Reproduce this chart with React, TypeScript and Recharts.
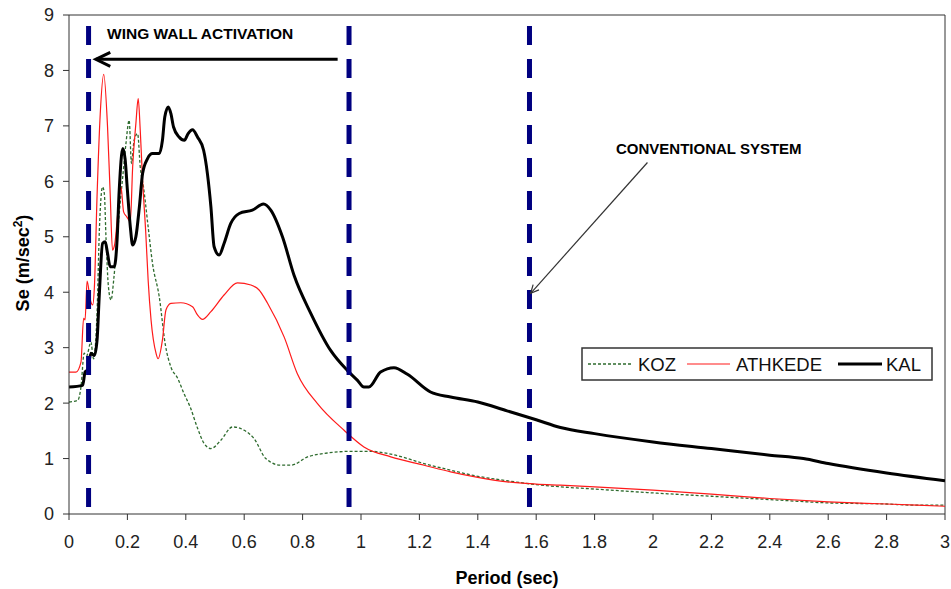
import { LineChart, Line, XAxis, YAxis, ReferenceLine } from "recharts";

// period (sec) / spectral acceleration (m/sec2)
const KOZ_T = [0.0, 0.03, 0.041, 0.052, 0.06, 0.075, 0.084, 0.096, 0.104, 0.115, 0.121, 0.127, 0.135, 0.144, 0.153, 0.161, 0.172, 0.184, 0.195, 0.206, 0.214, 0.223, 0.235, 0.244, 0.255, 0.271, 0.286, 0.309, 0.33, 0.349, 0.372, 0.394, 0.415, 0.44, 0.463, 0.486, 0.52, 0.56, 0.6, 0.634, 0.674, 0.725, 0.76, 0.817, 0.885, 0.965, 1.033, 1.102, 1.216, 1.307, 1.4, 1.5, 1.6, 1.683, 1.8, 2.0, 2.2, 2.4, 2.6, 2.8, 2.89, 3.0];
const KOZ_SE = [2.02, 2.05, 2.29, 2.9, 2.85, 3.1, 2.8, 3.62, 5.12, 5.9, 5.78, 4.94, 4.1, 3.86, 4.22, 4.7, 5.42, 6.08, 6.68, 7.1, 6.32, 6.74, 6.86, 6.26, 5.9, 5.18, 4.52, 3.92, 3.05, 2.65, 2.45, 2.17, 1.93, 1.55, 1.27, 1.18, 1.33, 1.57, 1.51, 1.36, 1.0, 0.88, 0.88, 1.03, 1.1, 1.13, 1.13, 1.08, 0.91, 0.79, 0.68, 0.6, 0.53, 0.49, 0.45, 0.38, 0.32, 0.26, 0.2, 0.18, 0.16, 0.16];

const ATH_T = [0.0, 0.024, 0.041, 0.05, 0.055, 0.062, 0.073, 0.081, 0.087, 0.096, 0.107, 0.119, 0.132, 0.141, 0.149, 0.157, 0.169, 0.178, 0.187, 0.198, 0.21, 0.218, 0.229, 0.237, 0.244, 0.252, 0.263, 0.271, 0.281, 0.298, 0.305, 0.32, 0.332, 0.349, 0.383, 0.423, 0.44, 0.457, 0.486, 0.531, 0.577, 0.623, 0.651, 0.68, 0.737, 0.782, 0.851, 0.942, 1.01, 1.102, 1.216, 1.307, 1.4, 1.5, 1.6, 1.683, 1.8, 2.0, 2.2, 2.4, 2.6, 2.8, 3.0];
const ATH_SE = [2.56, 2.56, 2.74, 3.53, 3.5, 4.2, 3.86, 3.77, 4.1, 5.72, 7.22, 7.93, 6.98, 5.78, 4.76, 4.88, 5.54, 5.9, 5.45, 5.36, 5.27, 6.26, 7.04, 7.49, 6.92, 6.02, 5.06, 4.22, 3.5, 2.9, 2.8, 3.14, 3.68, 3.8, 3.81, 3.74, 3.59, 3.51, 3.65, 3.95, 4.17, 4.13, 4.04, 3.8, 3.19, 2.53, 1.99, 1.51, 1.21, 1.03, 0.88, 0.76, 0.66, 0.58, 0.54, 0.52, 0.49, 0.43, 0.36, 0.28, 0.22, 0.18, 0.14];

const KAL_T = [0.0, 0.047, 0.055, 0.064, 0.075, 0.087, 0.096, 0.104, 0.115, 0.124, 0.132, 0.141, 0.155, 0.164, 0.172, 0.184, 0.192, 0.2, 0.21, 0.218, 0.229, 0.241, 0.252, 0.269, 0.286, 0.309, 0.32, 0.328, 0.34, 0.349, 0.358, 0.377, 0.395, 0.408, 0.423, 0.44, 0.461, 0.474, 0.486, 0.497, 0.514, 0.531, 0.554, 0.583, 0.628, 0.666, 0.691, 0.731, 0.771, 0.828, 0.896, 0.953, 0.988, 1.01, 1.027, 1.067, 1.113, 1.159, 1.238, 1.307, 1.4, 1.5, 1.6, 1.683, 1.8, 2.0, 2.2, 2.4, 2.515, 2.6, 2.8, 3.0];
const KAL_SE = [2.29, 2.32, 2.56, 2.6, 2.9, 2.86, 3.13, 3.98, 4.88, 4.91, 4.7, 4.46, 4.46, 4.88, 5.84, 6.59, 6.41, 5.84, 5.18, 4.85, 5.0, 5.54, 6.14, 6.41, 6.5, 6.5, 6.74, 7.16, 7.34, 7.22, 6.98, 6.8, 6.74, 6.86, 6.93, 6.8, 6.56, 6.14, 5.54, 4.82, 4.67, 4.88, 5.24, 5.42, 5.48, 5.59, 5.48, 5.0, 4.3, 3.62, 2.95, 2.59, 2.41, 2.29, 2.29, 2.56, 2.64, 2.52, 2.2, 2.11, 2.02, 1.86, 1.7, 1.56, 1.45, 1.3, 1.18, 1.06, 1.0, 0.91, 0.74, 0.6];

const X_TICKS = [0, 0.2, 0.4, 0.6, 0.8, 1, 1.2, 1.4, 1.6, 1.8, 2, 2.2, 2.4, 2.6, 2.8, 3];
const Y_TICKS = [0, 1, 2, 3, 4, 5, 6, 7, 8, 9];

// dashed period limits
const LIMIT_PERIODS = [0.067, 0.959, 1.577];

const toRows = (t: number[], se: number[]) => t.map((v, i) => ({ t: v, se: se[i] }));
const kozData = toRows(KOZ_T, KOZ_SE);
const athData = toRows(ATH_T, ATH_SE);
const kalData = toRows(KAL_T, KAL_SE);

const FONT = "Arial, 'Liberation Sans', sans-serif";
const TICK_STYLE = { fontSize: 18, fill: "#222", fontFamily: FONT };

function makeArrow(len: number, width: number, color: string) {
  return (props: any) => {
    const { x1, y1, x2, y2 } = props;
    const ang = Math.atan2(y2 - y1, x2 - x1);
    const spread = 0.45;
    const a = ang + Math.PI - spread;
    const b = ang + Math.PI + spread;
    const pts = `${x2 + len * Math.cos(a)},${y2 + len * Math.sin(a)} ${x2},${y2} ${x2 + len * Math.cos(b)},${y2 + len * Math.sin(b)}`;
    return (
      <g>
        <line x1={x1} y1={y1} x2={x2} y2={y2} stroke={color} strokeWidth={width} />
        <polyline points={pts} fill="none" stroke={color} strokeWidth={width} strokeLinejoin="miter" />
      </g>
    );
  };
}

export default function App() {
  return (
    <div style={{ position: "absolute", left: 0, top: 0, width: 951, height: 589, background: "#fff" }}>
      <LineChart width={951} height={589} margin={{ top: 15, right: 6, bottom: 15, left: 0 }}>
        <XAxis
          type="number"
          dataKey="t"
          domain={[0, 3]}
          ticks={X_TICKS}
          tickSize={6}
          tickMargin={15}
          height={60}
          stroke="#333"
          tick={TICK_STYLE}
          allowDataOverflow
        />
        <YAxis
          type="number"
          domain={[0, 9]}
          ticks={Y_TICKS}
          tickSize={6}
          tickMargin={9}
          width={69}
          stroke="#333"
          tick={TICK_STYLE}
          allowDataOverflow
        />
        <ReferenceLine y={9} stroke="#333" />
        <ReferenceLine x={3} stroke="#333" />
        <Line data={kozData} dataKey="se" type="monotone" stroke="#2e6b2e" strokeWidth={1.3} strokeDasharray="3 2" dot={false} activeDot={false} isAnimationActive={false} />
        <Line data={athData} dataKey="se" type="monotone" stroke="#ff1a1a" strokeWidth={1.2} dot={false} activeDot={false} isAnimationActive={false} />
        <Line data={kalData} dataKey="se" type="monotone" stroke="#000" strokeWidth={3} dot={false} activeDot={false} isAnimationActive={false} />
        {LIMIT_PERIODS.map((p) => (
          <ReferenceLine
            key={p}
            segment={[{ x: p, y: 8.8 }, { x: p, y: 0 }]}
            stroke="#000080"
            strokeWidth={5}
            strokeDasharray="19 14"
          />
        ))}
        <ReferenceLine segment={[{ x: 0.92, y: 8.2 }, { x: 0.092, y: 8.2 }]} shape={makeArrow(16, 3, "#000")} />
        <ReferenceLine segment={[{ x: 1.981, y: 6.34 }, { x: 1.581, y: 3.98 }]} shape={makeArrow(9, 1.2, "#333")} />
      </LineChart>
      <svg width={951} height={589} style={{ position: "absolute", left: 0, top: 0, pointerEvents: "none" }} fontFamily={FONT}>
        <text x={107} y={39} fontSize={15.5} fontWeight="bold" fill="#000">WING WALL ACTIVATION</text>
        <text x={616} y={154} fontSize={15} fontWeight="bold" fill="#000">CONVENTIONAL SYSTEM</text>
        <text x={507} y={584} fontSize={18} fontWeight="bold" textAnchor="middle" fill="#000">Period (sec)</text>
        <text transform="translate(29,263) rotate(-90)" fontSize={18} fontWeight="bold" textAnchor="middle" fill="#000">
          Se (m/sec<tspan dy={-7} fontSize={12}>2</tspan><tspan dy={7}>)</tspan>
        </text>
        <g>
          <rect x={582} y={348} width={350} height={32} fill="#fff" stroke="#333" strokeWidth={1.5} />
          <line x1={588} y1={364} x2={633} y2={364} stroke="#2e6b2e" strokeWidth={1.3} strokeDasharray="3 2" />
          <text x={638} y={370.5} fontSize={18.5} fill="#111">KOZ</text>
          <line x1={687} y1={364} x2={730} y2={364} stroke="#ff1a1a" strokeWidth={1.2} />
          <text x={736} y={370.5} fontSize={18.5} fill="#111">ATHKEDE</text>
          <line x1={838} y1={364} x2={882} y2={364} stroke="#000" strokeWidth={3} />
          <text x={886} y={370.5} fontSize={18.5} fill="#111">KAL</text>
        </g>
      </svg>
    </div>
  );
}
